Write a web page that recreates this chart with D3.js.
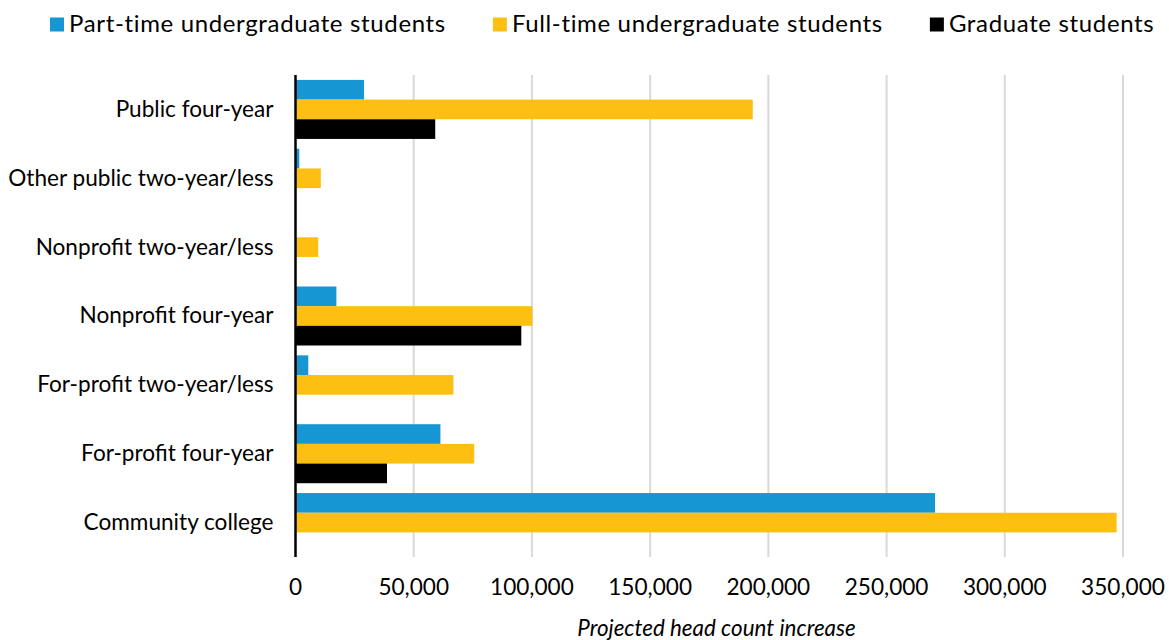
<!DOCTYPE html>
<html>
<head>
<meta charset="utf-8">
<script src="https://cdn.jsdelivr.net/npm/d3@7"></script>
<style>
  html, body { margin: 0; padding: 0; background: #fff; }
  svg { display: block; font-family: Lato, "Open Sans", sans-serif; }
</style>
</head>
<body>
<svg id="chart" width="1169" height="640"></svg>
<script>
// Projected head count increase by sector and student type
const categories = [
  "Public four-year",
  "Other public two-year/less",
  "Nonprofit two-year/less",
  "Nonprofit four-year",
  "For-profit two-year/less",
  "For-profit four-year",
  "Community college"
];
const seriesNames = [
  "Part-time undergraduate students",
  "Full-time undergraduate students",
  "Graduate students"
];
const partTime = [29000, 1600, 0, 17300, 5400, 61300, 270500];
const fullTime = [193400, 10700, 9600, 100200, 66800, 75600, 347300];
const graduate = [59100, 0, 0, 95500, 0, 38700, 0];
const seriesColors = ["#1696d2", "#fdbf11", "#000000"];
const tickValues = [0, 50000, 100000, 150000, 200000, 250000, 300000, 350000];
const axisTitle = "Projected head count increase";

const seriesValues = [partTime, fullTime, graduate];

const svg = d3.select("#chart");
const margin = { left: 295.5, right: 46, top: 75, bottom: 83 };
const W = 1169, H = 640;

const x = d3.scaleLinear().domain([0, 350000]).range([margin.left, W - margin.right]);
const y = d3.scaleBand().domain(categories).range([margin.top, H - margin.bottom])
  .paddingInner(0.143).paddingOuter(0.0715);
const ySub = d3.scaleBand().domain(seriesNames).range([0, y.bandwidth()]);

// vertical gridlines
svg.append("g")
  .selectAll("line")
  .data(tickValues.slice(1))
  .join("line")
  .attr("x1", d => x(d)).attr("x2", d => x(d))
  .attr("y1", margin.top).attr("y2", H - margin.bottom)
  .attr("stroke", "#d9d9d9").attr("stroke-width", 2);

// bars
const groups = svg.append("g")
  .selectAll("g")
  .data(categories)
  .join("g")
  .attr("transform", d => `translate(0,${y(d)})`);

groups.selectAll("rect")
  .data((c, i) => seriesNames.map((s, j) => ({ s, j, v: seriesValues[j][i] })))
  .join("rect")
  .attr("x", x(0))
  .attr("y", d => ySub(d.s))
  .attr("width", d => Math.max(0, x(d.v) - x(0)))
  .attr("height", ySub.bandwidth())
  .attr("fill", d => seriesColors[d.j]);

// category axis line
svg.append("line")
  .attr("x1", x(0)).attr("x2", x(0))
  .attr("y1", margin.top).attr("y2", H - margin.bottom)
  .attr("stroke", "#000").attr("stroke-width", 2.5);

// category labels
svg.append("g")
  .selectAll("text")
  .data(categories)
  .join("text")
  .attr("x", 273.5)
  .attr("y", d => y(d) + y.bandwidth() / 2)
  .attr("dy", "0.33em")
  .attr("text-anchor", "end")
  .attr("font-size", 22.6)
  .attr("fill", "#000")
  .text(d => d);

// value tick labels
const fmt = d3.format(",");
svg.append("g")
  .selectAll("text")
  .data(tickValues)
  .join("text")
  .attr("x", d => x(d))
  .attr("y", 595)
  .attr("text-anchor", "middle")
  .attr("font-size", 22.6)
  .attr("fill", "#000")
  .text(d => fmt(d));

// axis title
svg.append("text")
  .attr("x", 716.5)
  .attr("y", 636)
  .attr("text-anchor", "middle")
  .attr("font-size", 22.4)
  .attr("font-style", "italic")
  .attr("fill", "#000")
  .text(axisTitle);

// legend
const legend = svg.append("g");
let lx = 50;
seriesNames.forEach((name, j) => {
  legend.append("rect")
    .attr("x", lx).attr("y", 17.5)
    .attr("width", 14).attr("height", 14)
    .attr("fill", seriesColors[j]);
  const t = legend.append("text")
    .attr("x", lx + 19).attr("y", 31.5)
    .attr("font-size", 24)
    .attr("letter-spacing", 0.65)
    .attr("fill", "#000")
    .text(name);
  lx = lx + 19 + t.node().getComputedTextLength() + 47;
});
</script>
</body>
</html>
